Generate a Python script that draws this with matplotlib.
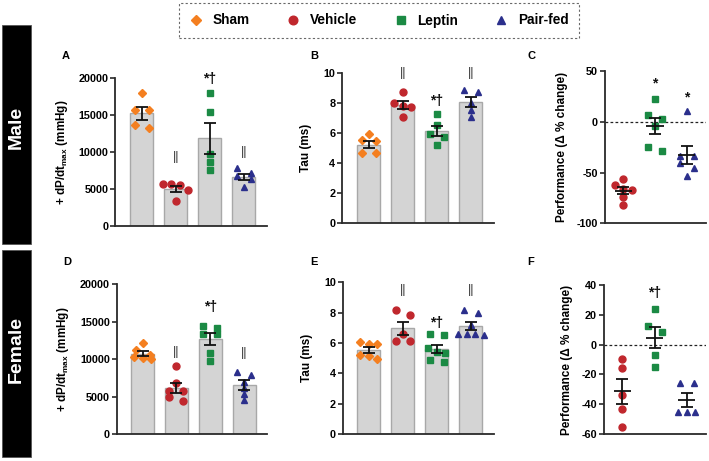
import numpy as np
import matplotlib
matplotlib.use("Agg")
import matplotlib.pyplot as plt
from matplotlib.patches import Rectangle
from matplotlib.lines import Line2D

plt.rcParams['font.family'] = ['Liberation Sans', 'DejaVu Sans']
plt.rcParams['font.weight'] = 'bold'
plt.rcParams['mathtext.fontset'] = 'custom'
plt.rcParams['mathtext.bf'] = 'Liberation Sans:bold'
plt.rcParams['mathtext.rm'] = 'Liberation Sans:bold'

# ---------------- data ----------------
groups = ["Sham", "Vehicle", "Leptin", "Pair-fed"]

# Panel A: male +dP/dt max (mmHg)
a_sham = [18000, 15700, 15700, 13200, 13700]
a_vehicle = [5700, 5600, 5500, 4900, 3300]
a_leptin = [18000, 15400, 9700, 8600, 7500]
a_pairfed = [7800, 7100, 6700, 6300, 5300]

# Panel B: male Tau (ms)
b_sham = [5.9, 5.5, 5.45, 4.65, 4.65]
b_vehicle = [8.7, 8.0, 7.8, 7.7, 7.05]
b_leptin = [7.25, 6.55, 5.95, 5.75, 5.2]
b_pairfed = [8.85, 8.74, 8.0, 7.5, 7.08]

# Panel C: male performance (% change)
c_vehicle = [-56, -62, -66, -67, -74, -82]
c_leptin = [22, 6.6, 2.6, -4.3, -28.9, -25.3]
c_pairfed = [10.8, -33.5, -33.5, -41, -46, -53.5]

# Panel D: female +dP/dt max (mmHg)
d_sham = [12100, 11200, 10600, 10300, 10100, 10000]
d_vehicle = [9070, 6760, 5780, 5780, 4400, 4980]
d_leptin = [14100, 14400, 13400, 13400, 10760, 9780]
d_pairfed = [8300, 7900, 7000, 6200, 5300, 4500]

# Panel E: female Tau (ms)
e_sham = [6.05, 5.95, 5.95, 5.2, 5.15, 4.95]
e_vehicle = [8.2, 7.85, 6.6, 6.1, 6.1]
e_leptin = [6.6, 6.55, 5.65, 5.4, 5.35, 4.85, 4.75]
e_pairfed = [8.2, 7.95, 7.2, 6.6, 6.6, 6.6, 6.55]

# Panel F: female performance (% change)
f_vehicle = [-9.6, -15.4, -33.5, -43.2, -55]
f_leptin = [23.9, 12.7, 8.7, -6.9, -15]
f_pairfed = [-25.5, -25.5, -45, -45, -45]

# significance labels
a_sig = ["", "||", "*†", "||"]
b_sig = ["", "||", "*†", "||"]
c_sig = ["", "*", "*"]
d_sig = ["", "||", "*†", "||"]
e_sig = ["", "||", "*†", "||"]
f_sig = ["", "*†", ""]

a_ticks = [0, 5000, 10000, 15000, 20000]
b_ticks = [0, 2, 4, 6, 8, 10]
c_ticks = [-100, -50, 0, 50]
d_ticks = [0, 5000, 10000, 15000, 20000]
e_ticks = [0, 2, 4, 6, 8, 10]
f_ticks = [-60, -40, -20, 0, 20, 40]

# ---------------- style ----------------
colors = {"Sham": "#f47f20", "Vehicle": "#c0272d", "Leptin": "#1b8a44", "Pair-fed": "#2b2f8c"}
markers = {"Sham": "D", "Vehicle": "o", "Leptin": "s", "Pair-fed": "^"}
msizes = {"Sham": 4.2, "Vehicle": 5.0, "Leptin": 4.6, "Pair-fed": 5.0}

W, H = 709, 461
fig = plt.figure(figsize=(W / 100, H / 100), dpi=100)


def rect(xl, xr, yt, yb):
    return [xl / W, 1 - yb / H, (xr - xl) / W, (yb - yt) / H]


def swarm_offsets(ax, vals, thresh_px=6.0):
    """Arrange points in rows (GraphPad-like) in pixel space."""
    vals = np.asarray(vals, float)
    order = np.argsort(-vals)
    ypix = ax.transData.transform(np.column_stack([np.zeros_like(vals), vals]))[:, 1]
    xscale = ax.transData.transform([[1, 0]])[0, 0] - ax.transData.transform([[0, 0]])[0, 0]
    offs = np.zeros(len(vals))
    rows = []
    for i in order:
        if rows and abs(ypix[rows[-1][0]] - ypix[i]) < thresh_px:
            rows[-1].append(i)
        else:
            rows.append([i])
    for r in rows:
        k = len(r)
        step = 14.0 if k == 2 else 8.5
        for j, idx in enumerate(r):
            offs[idx] = (j - (k - 1) / 2) * step / xscale
    return offs


def style_axes(ax, ylim, ticks, ylabel, labelpad):
    ax.set_ylim(*ylim)
    ax.set_yticks(ticks)
    ax.set_yticklabels([str(t) for t in ticks], fontsize=7.8, fontweight='bold')
    for s in ["top", "right"]:
        ax.spines[s].set_visible(False)
    for s in ["left", "bottom"]:
        ax.spines[s].set_linewidth(1.3)
        ax.spines[s].set_color("#2a2a2a")
    ax.set_xticks([])
    ax.tick_params(axis='y', length=3.5, width=1.2, color="#2a2a2a", pad=1.5)
    ax.set_ylabel(ylabel, fontsize=8.5, fontweight='bold', labelpad=labelpad)
    ax.patch.set_alpha(0)


def bar_panel(pos, data, sig, ylim, ticks, ylabel, sig_y, letter, letter_xy, labelpad):
    ax = fig.add_axes(rect(*pos))
    ax.set_xlim(-0.77, 3.68)
    style_axes(ax, ylim, ticks, ylabel, labelpad)
    means = [np.mean(d) for d in data]
    sems = [np.std(d, ddof=1) / np.sqrt(len(d)) for d in data]
    x = np.arange(len(groups))
    ax.bar(x, means, width=0.68, color="#d4d4d4", edgecolor="#a8a8a8", linewidth=1.0, zorder=1)
    for i, g in enumerate(groups):
        offs = swarm_offsets(ax, data[i])
        ax.plot(x[i] + offs, data[i], linestyle='none', marker=markers[g], ms=msizes[g],
                color=colors[g], mec=colors[g], zorder=3, clip_on=False)
    ax.errorbar(x, means, yerr=sems, fmt='none', ecolor='#111111', elinewidth=1.3,
                capsize=4.3, capthick=1.3, zorder=4)
    for i, s in enumerate(sig):
        if s:
            if s == "||":
                ax.text(x[i], sig_y[i], s, ha='center', va='center', fontsize=9,
                        fontweight='normal', color='#333333')
            else:
                ax.text(x[i], sig_y[i], s, ha='center', va='center', fontsize=10,
                        fontweight='bold', color='#111111')
    fig.text(letter_xy[0] / W, 1 - letter_xy[1] / H, letter, fontsize=8, fontweight='bold',
             ha='center', va='center')
    return ax


def dot_panel(pos, data, sig, ylim, ticks, ylabel, sig_y, letter, letter_xy, labelpad):
    ax = fig.add_axes(rect(*pos))
    ax.set_xlim(-0.57, 2.6)
    style_axes(ax, ylim, ticks, ylabel, labelpad)
    ax.axhline(0, color='#222222', linestyle=(0, (2.2, 1.8)), linewidth=0.9, zorder=1)
    gs = groups[1:]
    x = np.arange(len(gs))
    means = [np.mean(d) for d in data]
    sems = [np.std(d, ddof=1) / np.sqrt(len(d)) for d in data]
    for i, g in enumerate(gs):
        offs = swarm_offsets(ax, data[i])
        ax.plot(x[i] + offs, data[i], linestyle='none', marker=markers[g], ms=msizes[g],
                color=colors[g], mec=colors[g], zorder=3, clip_on=False)
    ax.errorbar(x, means, yerr=sems, fmt='none', ecolor='#111111', elinewidth=1.3,
                capsize=4.0, capthick=1.3, zorder=4)
    ax.hlines(means, x - 0.27, x + 0.27, color='#111111', linewidth=1.3, zorder=4)
    for i, s in enumerate(sig):
        if s:
            ax.text(x[i], sig_y[i], s, ha='center', va='center', fontsize=10,
                    fontweight='bold', color='#111111')
    fig.text(letter_xy[0] / W, 1 - letter_xy[1] / H, letter, fontsize=8, fontweight='bold',
             ha='center', va='center')
    return ax


dpdt_label = r'+ dP/dt$_{\mathbf{max}}$ (mmHg)'
perf_label = 'Performance (Δ % change)'

bar_panel((115.3, 267, 78.3, 225.7), [a_sham, a_vehicle, a_leptin, a_pairfed], a_sig,
          (0, 20000), a_ticks, dpdt_label, [0, 9300, 19900, 10000], "A", (66, 56), 6)
bar_panel((342.3, 494, 72.7, 223.3), [b_sham, b_vehicle, b_leptin, b_pairfed], b_sig,
          (0, 10), b_ticks, "Tau (ms)", [0, 10.0, 8.15, 10.0], "B", (314, 56), 8)
dot_panel((605, 706, 71, 223.3), [c_vehicle, c_leptin, c_pairfed], c_sig,
          (-100, 50), c_ticks, perf_label, [0, 38, 24], "C", (531, 56), 6)
bar_panel((116.7, 267, 284, 434), [d_sham, d_vehicle, d_leptin, d_pairfed], d_sig,
          (0, 20000), d_ticks, dpdt_label, [0, 10900, 17000, 10800], "D", (67, 262), 6)
bar_panel((342.7, 494, 282.3, 434), [e_sham, e_vehicle, e_leptin, e_pairfed], e_sig,
          (0, 10), e_ticks, "Tau (ms)", [0, 9.5, 7.35, 9.5], "E", (314, 262), 8)
dot_panel((604, 706, 285, 434), [f_vehicle, f_leptin, f_pairfed], f_sig,
          (-60, 40), f_ticks, perf_label, [0, 34.5, 0], "F", (531, 262), 6)

# side labels
for (yt, yb, ty, txt) in [(25, 244, 127, "Male"), (250, 457, 349, "Female")]:
    fig.patches.append(Rectangle((2 / W, 1 - yb / H), 29 / W, (yb - yt) / H,
                                 transform=fig.transFigure, facecolor='black',
                                 edgecolor='#555555', linewidth=0.6))
    fig.text(16.5 / W, 1 - ty / H, txt, rotation=90, color='white',
             fontsize=14, fontweight='bold', ha='center', va='center')

# legend
handles = [Line2D([], [], linestyle='none', marker=markers[g], ms=msizes[g] + 1.2,
                  color=colors[g], mec=colors[g]) for g in groups]
leg = fig.legend(handles, groups, loc='center', bbox_to_anchor=(379 / W, 1 - 20.5 / H),
                 ncol=4, frameon=True, fancybox=False,
                 handlelength=1.0, handletextpad=0.7, columnspacing=2.7,
                 borderpad=0.8, prop={'weight': 'bold', 'size': 9.8})
fr = leg.get_frame()
fr.set_linestyle((0, (2, 2)))
fr.set_edgecolor('#444444')
fr.set_linewidth(0.8)

fig.savefig("out.png", dpi=100)
